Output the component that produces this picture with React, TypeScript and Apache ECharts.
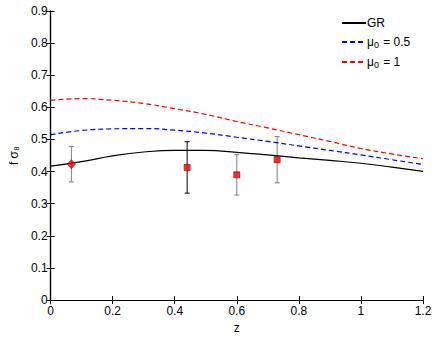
import React, { useEffect, useRef } from "react";
import * as echarts from "echarts";

// Model curves sampled at redshift z
const zGrid = [0, 0.1, 0.2, 0.3, 0.4, 0.5, 0.6, 0.7, 0.8, 0.9, 1.0, 1.1, 1.2];
const grValues = [0.417, 0.431, 0.449, 0.461, 0.466, 0.466, 0.46, 0.452, 0.443, 0.435, 0.426, 0.414, 0.401];
const mu05Values = [0.515, 0.528, 0.533, 0.534, 0.529, 0.52, 0.507, 0.494, 0.48, 0.466, 0.452, 0.437, 0.422];
const mu1Values = [0.622, 0.627, 0.622, 0.612, 0.596, 0.578, 0.556, 0.536, 0.515, 0.494, 0.472, 0.455, 0.44];

// Observations
const sixdfZ = [0.067];
const sixdfValues = [0.423];
const sixdfErrors = [0.055];
const wigglezZ = [0.44, 0.6, 0.73];
const wigglezValues = [0.413, 0.39, 0.437];
const wigglezErrors = [0.08, 0.063, 0.072];

// Tick settings
const xMin = 0, xMax = 1.2, xStep = 0.2;
const yMin = 0, yMax = 0.9, yStep = 0.1;

const seriesNames = ["GR", "μ0 = 0.5", "μ0 = 1"];

const errColorsSixdf = ["#808080"];
const errColorsWigglez = ["#000000", "#808080", "#808080"];

const FONT = "'Liberation Sans', Arial, Helvetica, sans-serif";

function errorBarSeries(zs: number[], vals: number[], errs: number[], colors: string[]) {
  return {
    type: "custom",
    silent: true,
    z: 3,
    data: zs.map((z, i) => [z, vals[i] - errs[i], vals[i] + errs[i]]),
    renderItem: (params: any, api: any) => {
      const lo = api.coord([api.value(0), api.value(1)]);
      const hi = api.coord([api.value(0), api.value(2)]);
      const c = colors[params.dataIndex] || "#808080";
      const w = 2.5;
      const style = { stroke: c, lineWidth: 1 };
      return {
        type: "group",
        children: [
          { type: "line", shape: { x1: lo[0], y1: lo[1], x2: hi[0], y2: hi[1] }, style },
          { type: "line", shape: { x1: lo[0] - w, y1: lo[1], x2: lo[0] + w, y2: lo[1] }, style },
          { type: "line", shape: { x1: hi[0] - w, y1: hi[1], x2: hi[0] + w, y2: hi[1] }, style },
        ],
      };
    },
  };
}

function legendFormatter(name: string) {
  if (name.startsWith("μ0")) {
    return "{t|μ}{s|0}{t|" + name.slice(2) + "}";
  }
  return "{t|" + name + "}";
}

export default function App() {
  const ref = useRef<HTMLDivElement>(null);
  useEffect(() => {
    if (!ref.current) return;
    const chart = echarts.init(ref.current, null, { renderer: "svg" });
    const axisCommon = {
      type: "value",
      axisLine: { show: true, lineStyle: { color: "#000", width: 1.2 } },
      axisTick: { show: true, inside: true, length: 4, lineStyle: { color: "#000" } },
      splitLine: { show: false },
    };
    const labelStyle = { color: "#000", fontSize: 12, fontFamily: FONT };
    chart.setOption({
      animation: false,
      backgroundColor: "#fff",
      grid: { left: 49, right: 13, top: 11, bottom: 34, containLabel: false },
      legend: {
        orient: "vertical",
        left: 341,
        top: 17,
        padding: 0,
        itemWidth: 24,
        itemHeight: 12,
        itemGap: 7,
        data: seriesNames,
        itemStyle: { opacity: 0 },
        formatter: legendFormatter,
        textStyle: {
          color: "#000",
          fontSize: 12,
          fontFamily: FONT,
          padding: [0, 0, 0, -4],
          rich: {
            t: { fontSize: 12, fontFamily: FONT, color: "#000", lineHeight: 14, verticalAlign: "middle" },
            s: { fontSize: 9, fontFamily: FONT, color: "#000", lineHeight: 14, verticalAlign: "bottom", padding: [0, 1, 0, 0] },
          },
        },
      },
      xAxis: [
        {
          ...axisCommon,
          min: xMin,
          max: xMax,
          interval: xStep,
          position: "bottom",
          axisLabel: { ...labelStyle, margin: 5 },
          name: "z",
          nameLocation: "middle",
          nameGap: 16,
          nameTextStyle: { ...labelStyle },
        },
        {
          ...axisCommon,
          min: xMin,
          max: xMax,
          interval: xStep,
          position: "top",
          axisLabel: { show: false },
        },
      ],
      yAxis: [
        {
          ...axisCommon,
          min: yMin,
          max: yMax,
          interval: yStep,
          position: "left",
          axisLabel: { ...labelStyle, margin: 3 },
          name: "f σ₈",
          nameLocation: "middle",
          nameGap: 30,
          nameRotate: 90,
          nameTextStyle: { ...labelStyle },
        },
        {
          ...axisCommon,
          min: yMin,
          max: yMax,
          interval: yStep,
          position: "right",
          axisLabel: { show: false },
        },
      ],
      series: [
        {
          name: seriesNames[0],
          type: "line",
          smooth: true,
          symbol: "none",
          data: zGrid.map((z, i) => [z, grValues[i]]),
          lineStyle: { color: "#000", width: 1.2, type: "solid" },
          itemStyle: { color: "#000" },
        },
        {
          name: seriesNames[1],
          type: "line",
          smooth: true,
          symbol: "none",
          data: zGrid.map((z, i) => [z, mu05Values[i]]),
          lineStyle: { color: "#0000ff", width: 1.2, type: [5, 3] },
          itemStyle: { color: "#0000ff" },
        },
        {
          name: seriesNames[2],
          type: "line",
          smooth: true,
          symbol: "none",
          data: zGrid.map((z, i) => [z, mu1Values[i]]),
          lineStyle: { color: "#ff0000", width: 1.2, type: [5, 3] },
          itemStyle: { color: "#ff0000" },
        },
        errorBarSeries(sixdfZ, sixdfValues, sixdfErrors, errColorsSixdf),
        errorBarSeries(wigglezZ, wigglezValues, wigglezErrors, errColorsWigglez),
        {
          type: "scatter",
          symbol: "diamond",
          symbolSize: [8, 9],
          z: 4,
          data: sixdfZ.map((z, i) => [z, sixdfValues[i]]),
          itemStyle: { color: "#ff0000", borderColor: "#b00000", borderWidth: 0.8 },
        },
        {
          type: "scatter",
          symbol: "rect",
          symbolSize: 6,
          z: 4,
          data: wigglezZ.map((z, i) => [z, wigglezValues[i]]),
          itemStyle: { color: "#ff0000", borderColor: "#800000", borderWidth: 0.8 },
        },
      ],
    });
    return () => chart.dispose();
  }, []);
  return (
    <div
      ref={ref}
      style={{ position: "fixed", left: 0, top: 0, width: 436, height: 339, background: "#fff" }}
    />
  );
}
